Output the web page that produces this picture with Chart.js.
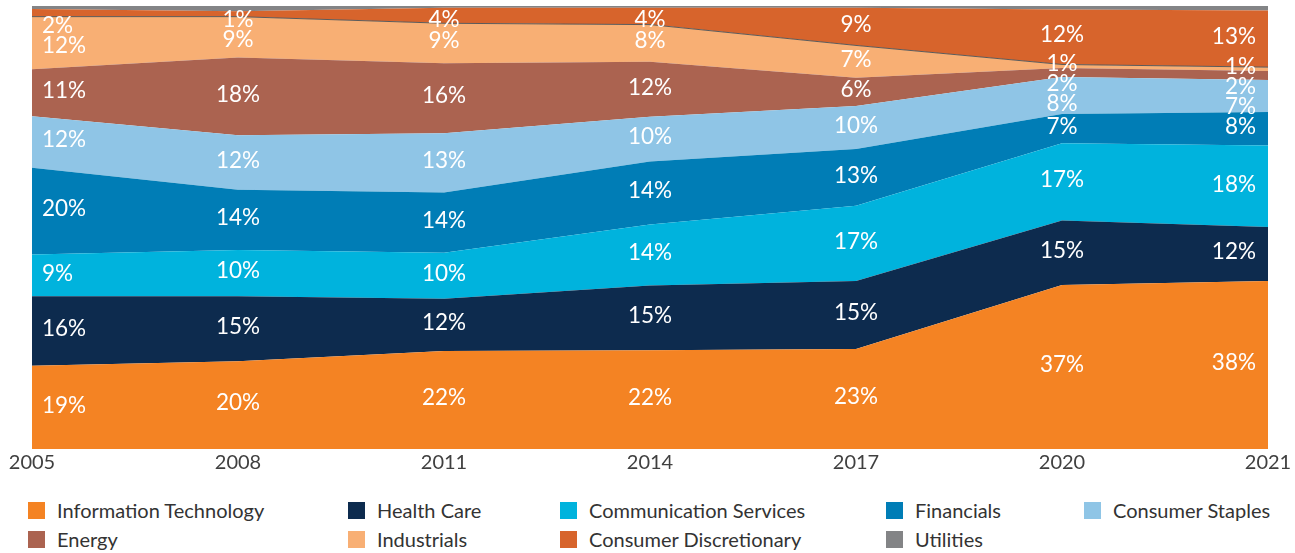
<!DOCTYPE html>
<html>
<head>
<meta charset="utf-8">
<script src="https://cdn.jsdelivr.net/npm/chart.js@4.4.1/dist/chart.umd.min.js"></script>
<style>
  html, body { margin: 0; padding: 0; background: #fff; }
  #wrap { position: relative; width: 1295px; height: 553px; overflow: hidden; }
  #c { position: absolute; left: 0; top: 0; }
  .lg { position: absolute; font: 20px Lato, sans-serif; color: #333; white-space: nowrap; }
  .lg i { position: absolute; left: 0; top: 3px; width: 17px; height: 17px; }
  .lg span { position: absolute; left: 29px; top: -1px; line-height: 24px; }
</style>
</head>
<body>
<div id="wrap">
  <canvas id="c" width="1295" height="477"></canvas>
  <div id="legend"></div>
</div>
<script>
var years = ['2005', '2008', '2011', '2014', '2017', '2020', '2021'];

// share of index (%), bottom to top
var infoTech      = [18.8, 19.8, 22.1, 22.3, 22.6, 37.0, 37.9];
var healthCare    = [15.7, 14.7, 11.8, 14.6, 15.3, 14.6, 12.2];
var commServices  = [9.4, 10.4, 10.4, 13.8, 17.0, 17.4, 18.4];
var financials    = [19.6, 13.6, 13.6, 14.2, 12.8, 6.6, 7.6];
var consStaples   = [11.6, 12.3, 13.4, 10.1, 9.7, 8.4, 7.2];
var energy        = [10.6, 17.6, 15.8, 12.4, 6.4, 2.0, 2.0];
var industrials   = [11.9, 9.2, 9.0, 8.4, 7.3, 0.8, 0.9];
var consDiscr     = [1.7, 1.2, 3.5, 3.8, 8.5, 12.4, 12.8];
var utilities     = [0.7, 1.2, 0.4, 0.4, 0.4, 0.8, 1.0];

var series = [
  { label: 'Information Technology', data: infoTech, color: '#F48323' },
  { label: 'Health Care', data: healthCare, color: '#0D2B4E' },
  { label: 'Communication Services', data: commServices, color: '#00B3DD' },
  { label: 'Financials', data: financials, color: '#007DB6' },
  { label: 'Consumer Staples', data: consStaples, color: '#8FC5E6' },
  { label: 'Energy', data: energy, color: '#AB6350' },
  { label: 'Industrials', data: industrials, color: '#F8AF74' },
  { label: 'Consumer Discretionary', data: consDiscr, color: '#D7642C' },
  { label: 'Utilities', data: utilities, color: '#838486' }
];

var datasets = series.map(function (s, i) {
  return {
    label: s.label,
    data: s.data,
    backgroundColor: s.color,
    borderColor: s.label === 'Industrials' ? '#5b5b5b' : s.color,
    borderWidth: s.label === 'Industrials' ? 1 : 0,
    fill: i === 0 ? 'origin' : '-1',
    pointRadius: 0,
    tension: 0
  };
});

// white % labels inside each band
var bandLabels = {
  id: 'bandLabels',
  afterDatasetsDraw: function (chart) {
    var ctx = chart.ctx;
    var area = chart.chartArea;
    var n = chart.data.labels.length;
    ctx.save();
    ctx.font = '22.5px Lato, sans-serif';
    ctx.fillStyle = '#fff';
    ctx.textBaseline = 'middle';
    for (var i = 0; i < n; i++) {
      var items = [];
      var prevY = area.bottom;
      for (var d = 0; d < chart.data.datasets.length; d++) {
        var pt = chart.getDatasetMeta(d).data[i];
        if (d < chart.data.datasets.length - 1) {
          items.push({ v: chart.data.datasets[d].data[i], y: (pt.y + prevY) / 2 - 2 });
        }
        prevY = pt.y;
      }
      // top to bottom, push down to avoid overlap
      items.reverse();
      var last = area.top + (i === 0 ? 20 : 14);
      items.forEach(function (it) {
        if (it.y < last) it.y = last;
        last = it.y + 20;
      });
      var x = chart.getDatasetMeta(0).data[i].x;
      if (i === 0) { ctx.textAlign = 'left'; x += 10; }
      else if (i === n - 1) { ctx.textAlign = 'right'; x -= 12; }
      else { ctx.textAlign = 'center'; }
      items.forEach(function (it) {
        ctx.fillText(Math.round(it.v) + '%', x, it.y);
      });
    }
    ctx.restore();
  }
};

new Chart(document.getElementById('c'), {
  type: 'line',
  data: { labels: years, datasets: datasets },
  plugins: [bandLabels],
  options: {
    responsive: false,
    animation: false,
    layout: { padding: { left: 32, right: 27, top: 6, bottom: 0 } },
    plugins: { legend: { display: false }, tooltip: { enabled: false } },
    scales: {
      x: {
        offset: false,
        grid: { display: false, drawTicks: false },
        border: { display: false },
        ticks: { color: '#404040', font: { family: 'Lato', size: 20 }, padding: 2, maxRotation: 0 }
      },
      y: { display: false, stacked: true, min: 0, max: 100 }
    }
  }
});

// legend in a fixed grid like the original
var legendPos = [
  [28, 499], [348, 499], [560, 499], [886, 499], [1084, 499],
  [28, 528], [348, 528], [560, 528], [886, 528]
];
var lg = document.getElementById('legend');
series.forEach(function (s, i) {
  var el = document.createElement('div');
  el.className = 'lg';
  el.style.left = legendPos[i][0] + 'px';
  el.style.top = legendPos[i][1] + 'px';
  el.innerHTML = '<i style="background:' + s.color + '"></i><span>' + s.label + '</span>';
  lg.appendChild(el);
});
</script>
</body>
</html>
